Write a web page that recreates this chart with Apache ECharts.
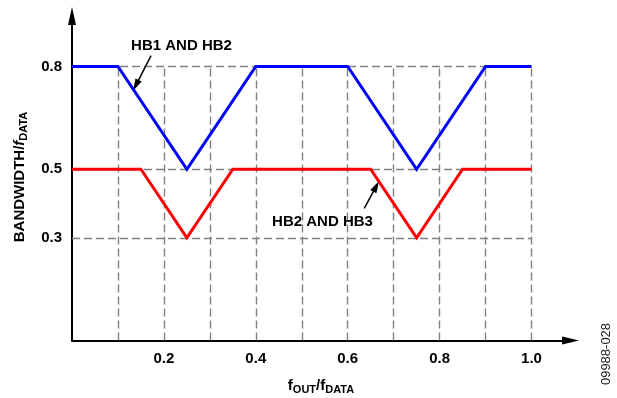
<!DOCTYPE html>
<html>
<head>
<meta charset="utf-8">
<script src="https://cdn.jsdelivr.net/npm/echarts@6/dist/echarts.min.js"></script>
<style>html,body{margin:0;padding:0;background:#fff;}#c{width:617px;height:398px;}</style>
</head>
<body>
<div id="c"></div>
<script>
// ---- data ----
const blueX = [0, 0.1, 0.25, 0.4, 0.6, 0.75, 0.9, 1.0];
const blueY = [0.8, 0.8, 0.5, 0.8, 0.8, 0.5, 0.8, 0.8];
const redX  = [0, 0.15, 0.25, 0.35, 0.65, 0.75, 0.85, 1.0];
const redY  = [0.5, 0.5, 0.3, 0.5, 0.5, 0.3, 0.5, 0.5];
const xGridLines = [0.1, 0.2, 0.3, 0.4, 0.5, 0.6, 0.7, 0.8, 0.9, 1.0];
const yTicks = [0.3, 0.5, 0.8];
const xTicks = [0.2, 0.4, 0.6, 0.8, 1.0];
// annotation arrows (data coords): [tailX, tailY, tipX, tipY]
const arrow1 = [0.172, 0.832, 0.139, 0.745];
const arrow2 = [0.636, 0.386, 0.662, 0.450];

// ---- layout ----
const X0 = 72, PX = 459.5, Y0 = 340.5, PY = 342.5;
const XMAX_OUT = 1.085, YMAX_OUT = 0.9475;
const FF = "'Liberation Sans', Arial, Helvetica, sans-serif";

const chart = echarts.init(document.getElementById('c'), null, {renderer: 'canvas'});
const near = (v, arr) => arr.some(t => Math.abs(t - v) < 1e-6);
const lblStyle = {fontSize: 15, fontWeight: 'bold', color: '#000', fontFamily: FF};
const gridDash = {color: '#808080', width: 1.4, type: [8, 4]};

const option = {
  animation: false,
  backgroundColor: '#fff',
  grid: [
    {left: X0, top: Y0 - 0.8 * PY, width: PX, height: 0.8 * PY},
    {left: X0, top: Y0 - YMAX_OUT * PY, width: XMAX_OUT * PX, height: YMAX_OUT * PY}
  ],
  xAxis: [
    {type: 'value', gridIndex: 0, min: 0, max: 1, interval: 0.2,
     axisLine: {show: false}, axisTick: {show: false}, splitLine: {show: false},
     axisLabel: Object.assign({margin: 11, showMinLabel: false,
       formatter: v => near(v, xTicks) ? v.toFixed(1) : ''}, lblStyle)},
    {type: 'value', gridIndex: 1, min: 0, max: XMAX_OUT,
     axisLine: {show: true, symbol: ['none', 'triangle'], symbolSize: [8, 17],
       lineStyle: {color: '#000', width: 2}},
     axisTick: {show: false}, axisLabel: {show: false}, splitLine: {show: false}}
  ],
  yAxis: [
    {type: 'value', gridIndex: 0, min: 0, max: 0.8, interval: 0.1,
     axisLine: {show: false}, axisTick: {show: false}, splitLine: {show: false},
     axisLabel: Object.assign({margin: 10,
       formatter: v => near(v, yTicks) ? v.toFixed(1) : ''}, lblStyle)},
    {type: 'value', gridIndex: 1, min: 0, max: YMAX_OUT,
     axisLine: {show: true, symbol: ['none', 'triangle'], symbolSize: [8, 18],
       lineStyle: {color: '#000', width: 2}},
     axisTick: {show: false}, axisLabel: {show: false}, splitLine: {show: false}}
  ],
  series: [
    {type: 'line', xAxisIndex: 0, yAxisIndex: 0, data: [], z: 0, zlevel: 0, silent: true,
     markLine: {silent: true, symbol: 'none', label: {show: false}, animation: false,
       lineStyle: gridDash,
       data: xGridLines.map(v => ({xAxis: v})).concat(yTicks.map(v => ({yAxis: v})))}},
    {type: 'line', xAxisIndex: 0, yAxisIndex: 0, z: 3, zlevel: 1, clip: false, silent: true,
     showSymbol: false, symbol: 'none',
     lineStyle: {color: '#0000FF', width: 3, join: 'miter'},
     data: blueX.map((x, i) => [x, blueY[i]])},
    {type: 'line', xAxisIndex: 0, yAxisIndex: 0, z: 3, zlevel: 1, clip: false, silent: true,
     showSymbol: false, symbol: 'none',
     lineStyle: {color: '#FF0000', width: 3, join: 'miter'},
     data: redX.map((x, i) => [x, redY[i]])},
    {type: 'line', xAxisIndex: 1, yAxisIndex: 1, z: 4, zlevel: 1, silent: true,
     showSymbol: false, symbol: 'none', lineStyle: {width: 0, opacity: 0},
     data: [[0, 0]],
     markLine: {silent: true, animation: false, symbol: ['none', 'triangle'],
       symbolSize: [7, 12], label: {show: false},
       lineStyle: {color: '#000', width: 1.5, type: 'solid'},
       data: [arrow1, arrow2].map(a => [{coord: [a[0], a[1]]}, {coord: [a[2], a[3]]}])}}
  ],
  graphic: [
    {type: 'text', x: 20, y: 177, rotation: Math.PI / 2,
     style: {text: '{m|BANDWIDTH/}{i|f}{s|DATA}', align: 'center', verticalAlign: 'middle',
       rich: {
         m: {fontSize: 15, fontWeight: 'bold', fontFamily: FF, fill: '#000'},
         i: {fontSize: 15, fontWeight: 'bold', fontStyle: 'italic', fontFamily: FF, fill: '#000'},
         s: {fontSize: 11, fontWeight: 'bold', fontFamily: FF, fill: '#000', padding: [8, 0, 0, 0]}
       }}},
    {type: 'text', x: 321, y: 386,
     style: {text: '{m|f}{s|OUT}{m|/f}{s|DATA}', align: 'center', verticalAlign: 'middle',
       rich: {
         m: {fontSize: 15, fontWeight: 'bold', fontFamily: FF, fill: '#000'},
         s: {fontSize: 11, fontWeight: 'bold', fontFamily: FF, fill: '#000', padding: [8, 0, 0, 0]}
       }}},
    {type: 'text', x: 181.5, y: 45.5,
     style: {text: 'HB1 AND HB2', align: 'center', verticalAlign: 'middle',
       fontSize: 15, fontWeight: 'bold', fontFamily: FF, fill: '#000'}},
    {type: 'text', x: 322.5, y: 222,
     style: {text: 'HB2 AND HB3', align: 'center', verticalAlign: 'middle',
       fontSize: 15, fontWeight: 'bold', fontFamily: FF, fill: '#000'}},
    {type: 'text', x: 606, y: 354, rotation: Math.PI / 2,
     style: {text: '09988-028', align: 'center', verticalAlign: 'middle',
       fontSize: 13, fontFamily: "'Liberation Sans Narrow', 'Liberation Sans', Arial, sans-serif",
       fill: '#222'}}
  ]
};
chart.setOption(option);
</script>
</body>
</html>
